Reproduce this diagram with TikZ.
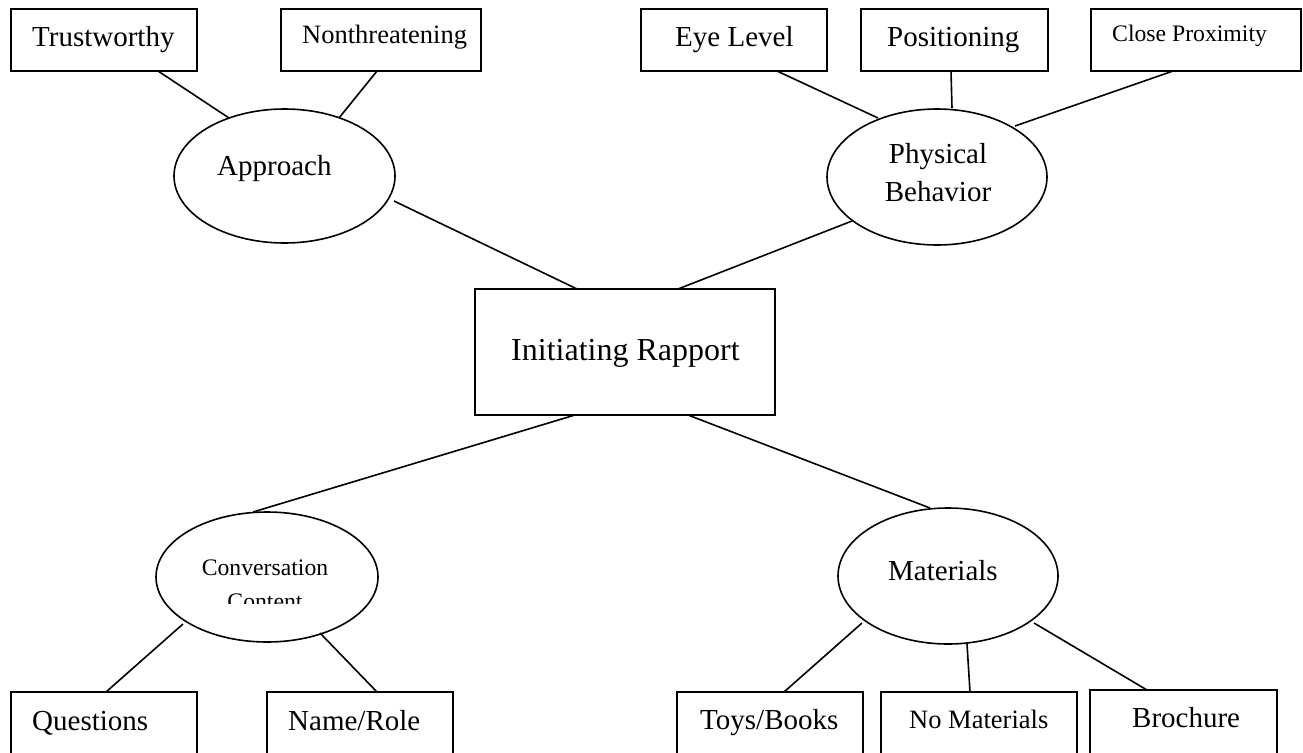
\documentclass[tikz,border=0pt]{standalone}
\usepackage{fontspec}
\setmainfont{Liberation Serif}
\usetikzlibrary{shapes.geometric,calc}
\tikzset{
  boxn/.style={draw, line width=1.6pt, rectangle, inner sep=0pt},
  elln/.style={draw, line width=1.6pt, ellipse, inner sep=0pt, minimum width=220pt},
  lbl/.style={anchor=base west, inner sep=0pt},
  conn/.style={line width=1.6pt},
  fbig/.style={font=\fontsize{32}{38}\selectfont},
  fnorm/.style={font=\fontsize{29}{34}\selectfont},
  fmid/.style={font=\fontsize{26.5}{31}\selectfont},
  fsmall/.style={font=\fontsize{23.7}{28}\selectfont},
}
\begin{document}
\begin{tikzpicture}[x=1pt,y=-1pt]
\clip (0,0) rectangle (1303,752);
\fill[white] (0,0) rectangle (1303,752);
% boxes
\node[boxn, minimum width=186pt, minimum height=62pt] (trust) at (104,40) {};
\node[boxn, minimum width=200pt, minimum height=62pt] (nonthr) at (381,40) {};
\node[boxn, minimum width=186pt, minimum height=62pt] (eye) at (734,40) {};
\node[boxn, minimum width=187pt, minimum height=62pt] (pos) at (954.5,40) {};
\node[boxn, minimum width=210pt, minimum height=62pt] (close) at (1196,40) {};
\node[boxn, minimum width=300pt, minimum height=126pt] (rapport) at (625,352) {};
\node[boxn, minimum width=186pt, minimum height=68pt] (quest) at (104,726) {};
\node[boxn, minimum width=186pt, minimum height=68pt] (name) at (360,726) {};
\node[boxn, minimum width=186pt, minimum height=68pt] (toys) at (770,726) {};
\node[boxn, minimum width=196pt, minimum height=68pt] (nomat) at (979,726) {};
\node[boxn, minimum width=187pt, minimum height=68pt] (broch) at (1183.5,724) {};
% ellipses
\node[elln, minimum width=221pt, minimum height=134pt] (appr) at (284.5,176) {};
\node[elln, minimum height=136pt] (phys) at (937,177) {};
\node[elln, minimum width=222pt, minimum height=130pt] (conv) at (267,577) {};
\node[elln, minimum height=136pt] (mat) at (948,576) {};
% labels
\node[lbl, fnorm] (ttrust) at (32,47) {Trustworthy};
\node[lbl, fmid] (tnonthr) at (302,44) {Nonthreatening};
\node[lbl, fnorm] (teye) at (675,47) {Eye Level};
\node[lbl, fnorm] (tpos) at (887,47) {Positioning};
\node[lbl, fsmall] (tclose) at (1112,42) {Close Proximity};
\node[lbl, fnorm] (tappr) at (217,175) {Approach};
\node[anchor=base, inner sep=0pt, fnorm] (tphys1) at (938,163) {Physical};
\node[anchor=base, inner sep=0pt, fnorm] (tphys2) at (938,201) {Behavior};
\node[lbl, fbig] (trapport) at (511,360) {Initiating Rapport};
\begin{scope}
\clip (150,520) rectangle (390,603);
\node[anchor=base, inner sep=0pt, fsmall] (tconv1) at (265,575) {Conversation};
\node[anchor=base, inner sep=0pt, fsmall] (tconv2) at (265,609) {Content};
\end{scope}
\node[lbl, fnorm] (tmat) at (888,580) {Materials};
\node[lbl, fnorm] (tquest) at (32,730) {Questions};
\node[lbl, fnorm] (tname) at (288,730) {Name/Role};
\node[lbl, fnorm] (ttoys) at (700,729) {Toys/Books};
\node[lbl, fmid] (tnomat) at (909,728) {No Materials};
\node[lbl, fnorm] (tbroch) at (1132,727) {Brochure};
% connectors
\draw[conn] ($(trust.center)+(54,31)$) -- ($(appr.center)+(-55.5,-58)$);
\draw[conn] ($(nonthr.center)+(-4,31)$) -- ($(appr.center)+(54.5,-58)$);
\draw[conn] ($(appr.center)+(109.5,25)$) -- ($(rapport.center)+(-48,-63)$);
\draw[conn] ($(phys.center)+(-85,44)$) -- ($(rapport.center)+(53,-63)$);
\draw[conn] ($(eye.center)+(43,31)$) -- ($(phys.center)+(-59,-59)$);
\draw[conn] ($(pos.center)+(-3.5,31)$) -- ($(phys.center)+(15,-69)$);
\draw[conn] ($(close.center)+(-23,31)$) -- ($(phys.center)+(78,-51)$);
\draw[conn] ($(rapport.center)+(-50,63)$) -- ($(conv.center)+(-14,-65)$);
\draw[conn] ($(rapport.center)+(63,63)$) -- ($(mat.center)+(-18,-68)$);
\draw[conn] ($(conv.center)+(-84,47)$) -- ($(quest.center)+(2,-34)$);
\draw[conn] ($(conv.center)+(53,56)$) -- ($(name.center)+(17,-34)$);
\draw[conn] ($(mat.center)+(-86,47)$) -- ($(toys.center)+(14,-34)$);
\draw[conn] ($(mat.center)+(19,68)$) -- ($(nomat.center)+(-9,-34)$);
\draw[conn] ($(mat.center)+(86,47)$) -- ($(broch.center)+(-36.5,-34)$);
\end{tikzpicture}
\end{document}
